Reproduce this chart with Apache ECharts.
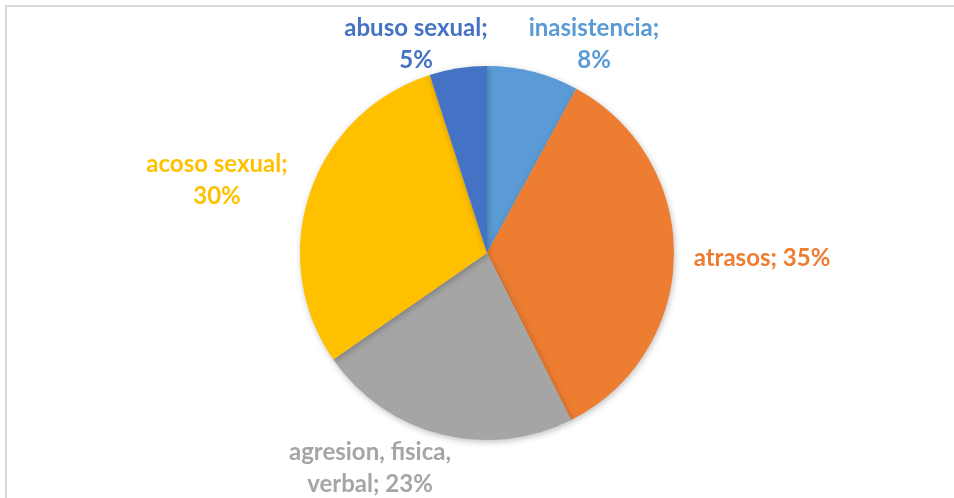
<!DOCTYPE html>
<html>
<head>
<meta charset="utf-8">
<script src="https://cdn.jsdelivr.net/npm/echarts@6/dist/echarts.min.js"></script>
<style>
html,body{margin:0;padding:0;background:#fff;}
#chart{width:954px;height:498px;}
</style>
</head>
<body>
<div id="chart"></div>
<script>
// Data (clockwise from 12 o'clock)
const categories = ['inasistencia', 'atrasos', 'agresion, fisica, verbal', 'acoso sexual', 'abuso sexual'];
const values = [8, 35, 23, 30, 5];
const colors = ['#5B9BD5', '#ED7D31', '#A5A5A5', '#FFC000', '#4472C4'];
// where each label's text wraps (substring after which a line break is inserted)
const labelBreaks = ['; ', null, 'fisica, ', '; ', '; '];
// label anchor (text centre) in px, laid out like the original
const labelPos = [[594, 44], [762, 258], [370, 468], [217, 180], [416, 44]];

const chart = echarts.init(document.getElementById('chart'));
chart.setOption({
  backgroundColor: '#ffffff',
  animation: false,
  graphic: [{
    type: 'rect',
    shape: {x: 6, y: 6, width: 1000, height: 1000},
    style: {fill: 'none', stroke: '#d9d9d9', lineWidth: 2},
    silent: true
  }],
  series: [{
    type: 'pie',
    center: [487, 253],
    radius: 187,
    startAngle: 90,
    clockwise: true,
    data: categories.map((n, i) => ({
      name: n, value: values[i],
      itemStyle: {color: colors[i]},
      label: {color: colors[i]}
    })),
    itemStyle: {
      borderWidth: 0,
      shadowBlur: 6,
      shadowColor: 'rgba(0,0,0,0.25)',
      shadowOffsetX: 1,
      shadowOffsetY: 2
    },
    label: {
      show: true,
      position: 'outside',
      fontFamily: 'Lato',
      fontWeight: 'bold',
      fontSize: 24,
      lineHeight: 32,
      align: 'center',
      formatter: p => {
        let t = p.name + '; ' + p.value + '%';
        const b = labelBreaks[p.dataIndex];
        if (b) { const k = t.indexOf(b) + b.length; t = t.slice(0, k).trimEnd() + '\n' + t.slice(k); }
        return t;
      }
    },
    labelLine: {show: false},
    labelLayout: p => ({
      x: labelPos[p.dataIndex][0],
      y: labelPos[p.dataIndex][1],
      align: 'center',
      verticalAlign: 'middle'
    })
  }]
});
</script>
</body>
</html>
